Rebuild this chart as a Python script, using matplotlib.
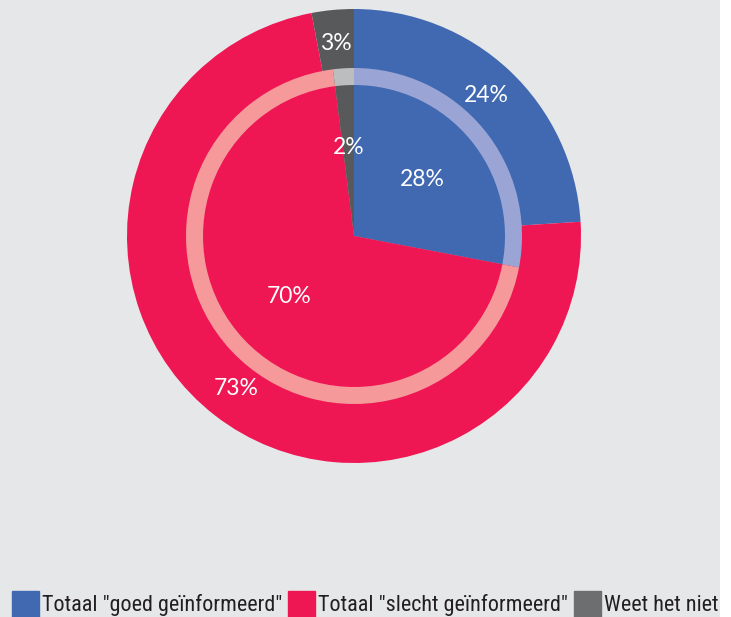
import matplotlib
matplotlib.use("Agg")
import matplotlib.pyplot as plt
from matplotlib import font_manager
from matplotlib.font_manager import FontProperties
from matplotlib.textpath import TextPath

categories = ['Totaal "goed geïnformeerd"', 'Totaal "slecht geïnformeerd"', 'Weet het niet']
outer_values = [24, 73, 3]
inner_values = [28, 70, 2]

main_colors = ['#4169b1', '#ef1654', '#58595b']
ring_colors = ['#9aa5d6', '#f5999a', '#bcbdbf']
legend_colors = ['#4169b1', '#ef1654', '#6d6e70']

# choose a narrow sans face if one exists
faces = font_manager.fontManager.ttflist
def pick():
    prefs = ['Liberation Sans Narrow', 'Roboto Condensed', 'Open Sans Condensed', 'Noto Sans Condensed']
    for p in prefs:
        for f in faces:
            if f.name == p and f.style == 'normal' and f.weight in (400, 'normal', 'regular'):
                return FontProperties(fname=f.fname)
    for f in faces:
        if ('Narrow' in f.name or 'Condensed' in f.name or f.stretch in ('condensed', 'semi-condensed')) \
                and f.style == 'normal' and f.weight in (400, 'normal', 'regular') and 'Mono' not in f.name:
            return FontProperties(fname=f.fname)
    return FontProperties(family='Liberation Sans')

legend_prop = pick()
# size the legend font so the first label is about as wide as in the reference (~238 px)
tp = TextPath((0, 0), categories[0], size=100, prop=legend_prop)
w100 = tp.get_extents().width
target_px = 238
size_pt = 100 * target_px / (w100 * 100 / 72)
legend_prop.set_size(size_pt)
fs_px = size_pt * 100 / 72

W, H = 731, 617
fig = plt.figure(figsize=(W / 100, H / 100), dpi=100, facecolor='white')
ax = fig.add_axes([0, 0, 720 / W, 1])
ax.add_patch(plt.Rectangle((0, 0), 720, H, color='#e6e7e9', zorder=0))

cx, cy = 354, H - 236

def pct_fmt(p):
    return f'{p:.0f}%'

wedges_out, _, texts_out = ax.pie(outer_values, colors=main_colors, startangle=90, counterclock=False,
                                   radius=227, center=(cx, cy), autopct=pct_fmt, pctdistance=0.85,
                                   wedgeprops=dict(linewidth=0), frame=True)
ax.pie(inner_values, colors=ring_colors, startangle=90, counterclock=False,
       radius=168, center=(cx, cy), wedgeprops=dict(linewidth=0), frame=True)
_, _, texts_in = ax.pie(inner_values, colors=main_colors, startangle=90, counterclock=False,
                        radius=151, center=(cx, cy), autopct=pct_fmt, pctdistance=0.59,
                        wedgeprops=dict(linewidth=0), frame=True)
for t in list(texts_out) + list(texts_in):
    t.set_color('white')
    t.set_fontsize(16.5)
    t.set_fontfamily('Lato')

ax.set_xlim(0, 720)
ax.set_ylim(0, H)
ax.set_aspect('equal')
ax.axis('off')

handles = [plt.Rectangle((0, 0), 1, 1, color=c) for c in legend_colors]
leg = ax.legend(handles, categories, ncol=3, loc='lower left', bbox_to_anchor=(12 / 720, 0.0),
                frameon=False, handlelength=27 / fs_px, handleheight=32 / fs_px,
                handletextpad=3 / fs_px, columnspacing=6 / fs_px,
                borderpad=0, borderaxespad=0, prop=legend_prop)
leg.set_clip_on(False)
for t in leg.get_texts():
    t.set_color('#231f20')

fig.savefig('out.png', dpi=100, facecolor='white')
